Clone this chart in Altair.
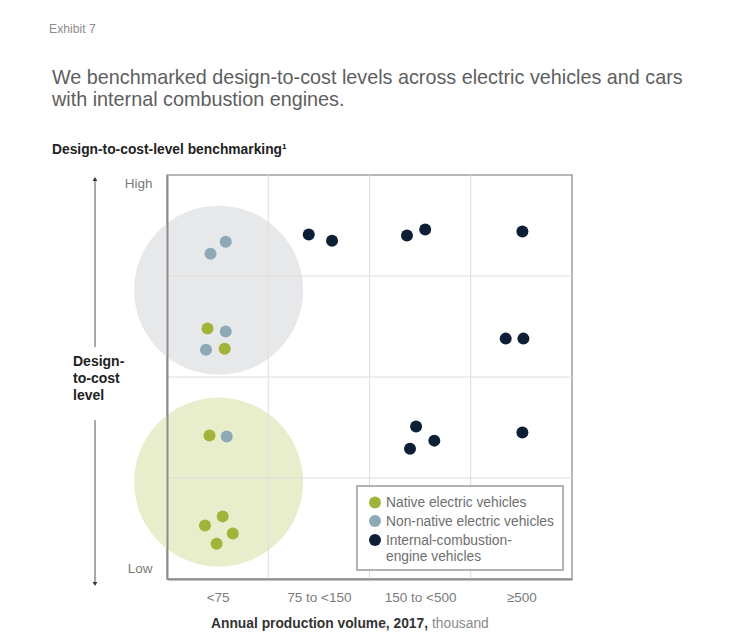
import json
import altair as alt
import pandas as pd

FONT = "Liberation Sans"

# ---------------- data ----------------
categories = ["Native electric vehicles", "Non-native electric vehicles",
              "Internal-combustion-engine vehicles"]
colors = ["#a2b33a", "#8fa8b7", "#0d1f35"]

native_x = [0.40, 0.57, 0.42, 0.55, 0.375, 0.65, 0.49]
native_y = [2.48, 2.28, 1.42, 0.62, 0.53, 0.45, 0.35]
nonnative_x = [0.58, 0.43, 0.58, 0.385, 0.59]
nonnative_y = [3.34, 3.22, 2.45, 2.27, 1.41]
ice_x = [1.40, 1.63, 2.37, 2.55, 3.51, 3.345, 3.52, 2.46, 2.64, 2.40, 3.51]
ice_y = [3.41, 3.35, 3.40, 3.46, 3.44, 2.38, 2.38, 1.51, 1.37, 1.29, 1.45]

volume_labels = ["<75", "75 to <150", "150 to <500", "≥500"]
level_labels = ["Low", "High"]
level_positions = [0.1, 3.92]

cluster_x = [0.51, 0.51]
cluster_y = [2.86, 0.96]
cluster_fill = ["#e7e8ea", "#e8eecb"]

grid_positions = [1, 2, 3]

# ---------------- tables ----------------
rows = []
for cat, xs, ys in [(categories[0], native_x, native_y),
                    (categories[1], nonnative_x, nonnative_y),
                    (categories[2], ice_x, ice_y)]:
    for a, b in zip(xs, ys):
        rows.append({"x": a, "y": b, "category": cat})
points_df = pd.DataFrame(rows)
clusters_df = pd.DataFrame({"x": cluster_x, "y": cluster_y, "fill": cluster_fill})
grid_df = pd.DataFrame({"g": grid_positions})
one = pd.DataFrame({"k": [0]})

W, H = 405, 404
DOT = 144          # symbol size (diameter 12 px)
CLUSTER = 169 * 169  # diameter ~169 px

xs = alt.Scale(domain=[0, 4], nice=False, zero=False)
ys = alt.Scale(domain=[0, 4], nice=False, zero=False)

x_axis = alt.Axis(
    values=[0.5, 1.5, 2.5, 3.5],
    labelExpr=json.dumps(volume_labels) + "[floor(datum.value)]",
    title=None, ticks=False, grid=False, domain=True,
    domainColor="#8c8c8c", domainWidth=2, labelColor="#7a7a7a",
    labelFontSize=13.5, labelFont=FONT, labelPadding=11, labelOverlap=False,
    labelFlush=False, zindex=1,
)
y_axis = alt.Axis(
    values=level_positions,
    labelExpr="datum.value > 2 ? '" + level_labels[1] + "' : '" + level_labels[0] + "'",
    title=None, ticks=False, grid=False, domain=True,
    domainColor="#8c8c8c", domainWidth=2, labelColor="#7a7a7a",
    labelFontSize=13.5, labelFont=FONT, labelPadding=15, labelOverlap=False,
    labelFlush=False, zindex=1,
)


def X(field):
    return alt.X(field, scale=xs, axis=x_axis)


def Y(field):
    return alt.Y(field, scale=ys, axis=y_axis)


clusters = alt.Chart(clusters_df).mark_circle(size=CLUSTER, opacity=1).encode(
    x=X("x:Q"), y=Y("y:Q"), color=alt.Color("fill:N", scale=None, legend=None)
)

vgrid = alt.Chart(grid_df).mark_rule(color="#dedede", strokeWidth=1).encode(x=X("g:Q"))
hgrid = alt.Chart(grid_df).mark_rule(color="#dedede", strokeWidth=1).encode(y=Y("g:Q"))

pts = alt.Chart(points_df).mark_circle(size=DOT, opacity=1).encode(
    x=X("x:Q"), y=Y("y:Q"),
    color=alt.Color("category:N", scale=alt.Scale(domain=categories, range=colors), legend=None),
)


def txt(text, x, y, size, color, weight="normal", align="left",
        baseline="middle", line_height=None):
    kw = dict(text=text, align=align, baseline=baseline, fontSize=size,
              font=FONT, color=color, fontWeight=weight)
    if line_height:
        kw["lineHeight"] = line_height
    return alt.Chart(one).mark_text(**kw).encode(x=alt.value(x), y=alt.value(y))


texts = [
    txt("Exhibit 7", -118, -146, 12.2, "#8c8c8c"),
    txt("We benchmarked design-to-cost levels across electric vehicles and cars",
        -115, -97, 19.8, "#5e5e5e"),
    txt("with internal combustion engines.", -115, -75, 19.8, "#5e5e5e"),
    txt("Design-to-cost-level benchmarking¹", -115, -25, 13.8, "#222222", weight="bold"),
    txt(["Design-", "to-cost", "level"], -94, 190.5, 14, "#222222", weight="bold",
        baseline="alphabetic", line_height=17),
    txt("Annual production volume, 2017,", 261, 449, 13.8, "#333333", weight="bold",
        align="right"),
    txt("thousand", 265, 449, 13.8, "#8a8a8a"),
]

# arrows on the left side
arrow_up = alt.Chart(one).mark_rule(color="#555555", strokeWidth=1).encode(
    x=alt.value(-72), y=alt.value(5), y2=alt.value(172))
arrow_down = alt.Chart(one).mark_rule(color="#555555", strokeWidth=1).encode(
    x=alt.value(-72), y=alt.value(245), y2=alt.value(407))
head_up = alt.Chart(one).mark_point(shape="triangle-up", size=22, filled=True,
                                    color="#333333", opacity=1).encode(
    x=alt.value(-72), y=alt.value(4))
head_down = alt.Chart(one).mark_point(shape="triangle-down", size=22, filled=True,
                                      color="#333333", opacity=1).encode(
    x=alt.value(-72), y=alt.value(409))

# legend (drawn manually)
legend_box = alt.Chart(one).mark_rect(fill="white", stroke="#9a9a9a", strokeWidth=1.5).encode(
    x=alt.value(190), x2=alt.value(396), y=alt.value(311), y2=alt.value(395))
legend_rows = [327.5, 346, 365]
legend_layers = [legend_box]
for i, cat in enumerate(categories):
    legend_layers.append(
        alt.Chart(one).mark_circle(size=DOT, color=colors[i], opacity=1).encode(
            x=alt.value(208), y=alt.value(legend_rows[i])))
label_lines = [[categories[0]], [categories[1]], ["Internal-combustion-", "engine vehicles"]]
for i, lines in enumerate(label_lines):
    legend_layers.append(
        txt(lines if len(lines) > 1 else lines[0], 219, legend_rows[i] + 4.8, 13.8,
            "#6e6e6e", baseline="alphabetic", line_height=16.5))

chart = alt.layer(
    clusters, vgrid, hgrid, pts, *legend_layers, arrow_up, arrow_down,
    head_up, head_down, *texts
).properties(
    width=W, height=H,
    autosize=alt.AutoSizeParams(type="none"),
    padding={"left": 159, "top": 167, "right": 156, "bottom": 52},
    background="white",
).configure_view(stroke="#a0a0a0", strokeWidth=1.5)

chart.save("out.html", embed_options={"renderer": "svg", "actions": False})
